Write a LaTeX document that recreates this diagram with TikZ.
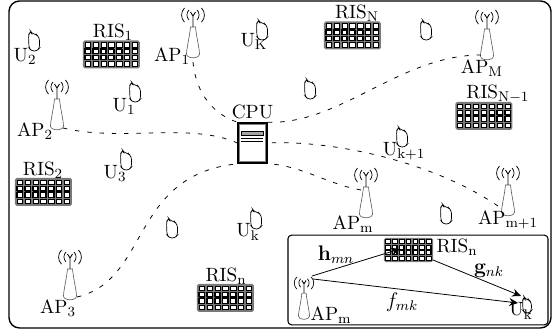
\documentclass[11pt,tikz,border=0pt]{standalone}
\usepackage{amsmath, amssymb}
\usepackage{tikz}
\usetikzlibrary{arrows.meta, positioning}
\definecolor{panelgray}{RGB}{120,120,120}
\tikzset{
  txt/.style={inner sep=0pt},
  chantxt/.style={inner sep=0pt, font=\large},
  link/.style={dash pattern=on 2.5pt off 4.5pt, line width=0.45pt},
  chan/.style={-{Stealth[length=5pt,width=4.5pt]}, line width=0.45pt},
  phone/.pic={
    \draw[line width=0.4pt, rounded corners=1.5pt, fill=white] (-5.5,-6) -- (-3.5,-10) -- (-2.5,-7.5) -- (2.5,-6.5) -- (5.5,-3)
      -- (5.5,7) -- (3,10) -- (-2.5,10) -- (-5,7) -- cycle;
  },
  ap/.pic={
    % body
    \draw[line width=0.35pt, gray!70!black, fill=white] (-2.5,12) -- (2.5,12) .. controls (3.5,22) and (6.5,34) .. (6.5,39)
      .. controls (6.5,44) and (-6.5,44) .. (-6.5,39) .. controls (-6.5,34) and (-3.5,22) .. (-2.5,12) -- cycle;
    % mast and waves
    \draw[line width=0.5pt] (0,12) -- (0,1) (-2.5,-3) -- (0,1) -- (2.5,-3);
    \foreach \r/\h/\R in {4/5/7, 8.5/7/10} {
      \draw[line width=0.4pt] (\r,-\h) arc[start angle=45, end angle=-45, radius=\R*0.02cm];
      \draw[line width=0.4pt] (-\r,-\h) arc[start angle=135, end angle=225, radius=\R*0.02cm];
    }
  },
  ris/.pic={
    \fill[panelgray, rounded corners=1pt] (-28.5,-14) rectangle (28.5,14);
    \foreach \i in {0,...,6} {
      \foreach \j in {0,...,3} {
        \draw[fill=white, line width=0.3pt] (-26.5+\i*7.9,-12+\j*6.3) rectangle ++(5.2,4.6);
      }
    }
    \foreach \i in {0,...,6} {
      \draw[line width=0.6pt] (-26.5+\i*7.9,-5.7) rectangle ++(5.2,4.6);
      \draw[line width=0.6pt] (-26.5+\i*7.9,0.6) rectangle ++(5.2,4.6);
    }
  }
}
\begin{document}
\begin{tikzpicture}[x=0.02cm, y=-0.02cm]
  \useasboundingbox (0,0) rectangle (556,330);
  \draw[line width=0.8pt, rounded corners=6pt] (9,1) rectangle (551,328);
  % reflecting surfaces
  \foreach \x/\y/\n in {111.5/54.5/risa, 352.5/35.5/risN, 484/116/risM, 43.5/192/risb, 225.5/298/risn} {
    \pic at (\x,\y) {ris};
    \coordinate (\n) at (\x,\y);
  }
  \node[txt] (risatext) at (113,32) {$\mathrm{RIS_1}$};
  \node[txt] (risNtext) at (357,13) {$\mathrm{RIS_N}$};
  \node[txt, anchor=west] (risMtext) at (466,94) {$\mathrm{RIS_{N-1}}$};
  \node[txt] (risbtext) at (43,170) {$\mathrm{RIS_2}$};
  \node[txt] (risntext) at (226,276) {$\mathrm{RIS_n}$};
  % access points
  \foreach \x/\y/\n in {193/15/apa, 57/87/apb, 70/257/apc, 366/175/apm, 508/173/apk, 487/17/apM} {
    \pic at (\x,\y) {ap};
    \coordinate (\n) at (\x,\y);
  }
  \node[txt] (apatext) at (172,56) {$\mathrm{AP_1}$};
  \node[txt] (apbtext) at (35,131) {$\mathrm{AP_2}$};
  \node[txt] (apctext) at (58,308) {$\mathrm{AP_3}$};
  \node[txt] (apmtext) at (353,224) {$\mathrm{AP_m}$};
  \node[txt] (apktext) at (508,220) {$\mathrm{AP_{m+1}}$};
  \node[txt] (apMtext) at (482,68) {$\mathrm{AP_M}$};
  % users
  \foreach \x/\y in {34/41, 135/92, 262/30, 310/89, 426/30, 402/137, 126/160, 172/228, 446/214, 256/219} {
    \pic at (\x,\y) {phone};
  }
  \node[txt] (uatext) at (25,56) {$\mathrm{U_2}$};
  \node[txt] (ubtext) at (124,106) {$\mathrm{U_1}$};
  \node[txt] (uKtext) at (254,41) {$\mathrm{U_K}$};
  \node[txt] (uptext) at (404,151) {$\mathrm{U_{k+1}}$};
  \node[txt] (uctext) at (115,173) {$\mathrm{U_3}$};
  \node[txt] (uktext) at (248,232) {$\mathrm{U_k}$};
  % server
  \node[draw, line width=1.2pt, minimum width=16pt, minimum height=22.5pt, inner sep=0pt, fill=white] (cpu) at (252.5,143) {};
  \node[txt, above=1.5pt of cpu] (cputext) {CPU};
  \draw[gray, line width=0.3pt] ([xshift=1.2pt,yshift=-1.2pt]cpu.north west) rectangle ([xshift=-1.2pt,yshift=1.2pt]cpu.south east);
  \draw[fill=gray!70, line width=0.4pt] (241,131) rectangle (263,135);
  \draw[line width=0.4pt] (241,138) -- (263,138) (241,141) -- (263,141);
  % fronthaul
  \coordinate (apaend) at (193,62);
  \coordinate (apbend) at (63,128);
  \coordinate (apcend) at (77,297);
  \coordinate (apMend) at (481,55);
  \coordinate (apkend) at (498,206);
  \coordinate (apmend) at (361,190);
  \draw[link] (apaend) .. controls (196,95) and (215,115) .. (cpu.north west);
  \draw[link] (apbend) .. controls (120,142) and (190,122) .. (cpu.west);
  \draw[link] (apcend) .. controls (150,280) and (130,175) .. (cpu.south west);
  \draw[link] (apMend) .. controls (400,55) and (340,125) .. (cpu.north east);
  \draw[link] (apkend) .. controls (430,160) and (330,140) .. (cpu.east);
  \draw[link] (apmend) .. controls (330,185) and (300,165) .. (cpu.south east);
  % inset
  \node[draw, line width=0.6pt, rounded corners=2pt, minimum width=148pt, minimum height=51pt, inner sep=0pt, fill=white] (inset) at (418,280) {};
  \pic[scale=0.86] at (408.5,250) {ris};
  \pic[scale=0.85] at (304,283) {ap};
  \pic[scale=0.8] at (527,305) {phone};
  \coordinate (risc) at (400,249);
  \coordinate (rise) at (433,260);
  \coordinate (aptop) at (312,276);
  \coordinate (apmid) at (313,279);
  \coordinate (ukup) at (521,296);
  \coordinate (ukleft) at (518,303);
  \node[txt] (rismtext) at (457,247) {$\mathrm{RIS_n}$};
  \node[txt] (apstext) at (331,315) {$\mathrm{AP_m}$};
  \node[txt] (ustext) at (521,311) {$\mathrm{U_k}$};
  \draw[chan] (aptop) -- (risc);
  \draw[chan] (rise) -- (ukup);
  \draw[chan] (apmid) -- (ukleft);
  \node[chantxt] (hlabel) at (336,255) {$\mathbf{h}_{mn}$};
  \node[chantxt] (glabel) at (489,271) {$\mathbf{g}_{nk}$};
  \node[chantxt] (flabel) at (402,302) {$f_{mk}$};
\end{tikzpicture}
\end{document}
